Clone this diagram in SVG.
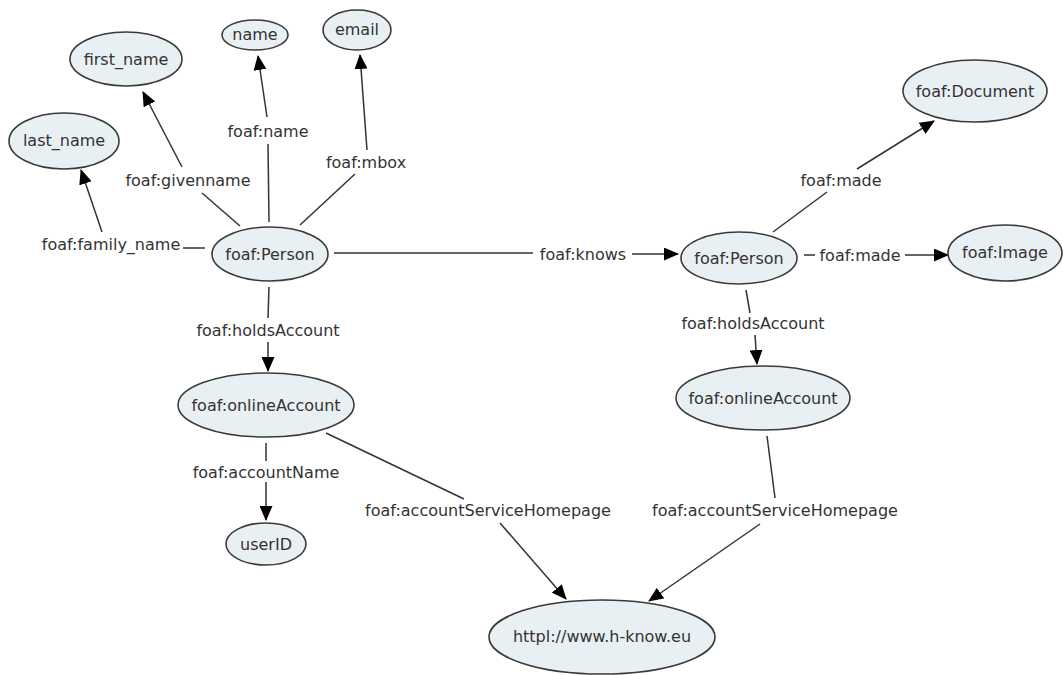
<svg xmlns="http://www.w3.org/2000/svg" width="1063" height="675" viewBox="0 0 1063 675">
  <style>
    .node ellipse { fill: #e9f0f3; stroke: #3a3a3a; stroke-width: 1.6; }
    .node text { font-family: "DejaVu Sans", Verdana, sans-serif; font-size: 16px; fill: #333; text-anchor: middle; dominant-baseline: central; }
    .edge line { stroke: #333; stroke-width: 1.5; fill: none; }
    .edge line.arr { marker-end: url(#head); }
    .edge text { font-family: "DejaVu Sans", Verdana, sans-serif; font-size: 16px; fill: #333; text-anchor: middle; dominant-baseline: central; }
  </style>
  <defs>
    <marker id="head" markerUnits="userSpaceOnUse" markerWidth="15" markerHeight="13" refX="14" refY="6.5" orient="auto">
      <path d="M0,0 L15,6.5 L0,13 z" fill="#000"/>
    </marker>
  </defs>
  <rect width="1063" height="675" fill="#fff"/>

  <g id="connectors">
    <g class="edge" id="e-family">
      <line x1="205" y1="248" x2="183" y2="248"/>
      <text x="111" y="244">foaf:family_name</text>
      <line class="arr" x1="102" y1="232" x2="81" y2="170"/>
    </g>
    <g class="edge" id="e-given">
      <line x1="240" y1="226" x2="202" y2="193"/>
      <text x="188" y="180">foaf:givenname</text>
      <line class="arr" x1="182" y1="167" x2="143" y2="92"/>
    </g>
    <g class="edge" id="e-name">
      <line x1="269" y1="222" x2="268" y2="144"/>
      <text x="268" y="131">foaf:name</text>
      <line class="arr" x1="267" y1="117" x2="258" y2="56"/>
    </g>
    <g class="edge" id="e-mbox">
      <line x1="300" y1="225" x2="355" y2="174"/>
      <text x="366" y="162">foaf:mbox</text>
      <line class="arr" x1="367" y1="150" x2="360" y2="55"/>
    </g>
    <g class="edge" id="e-knows">
      <line x1="334" y1="253" x2="533" y2="253"/>
      <text x="583" y="254">foaf:knows</text>
      <line class="arr" x1="632" y1="254" x2="678" y2="254"/>
    </g>
    <g class="edge" id="e-holds-1">
      <line x1="269" y1="287" x2="268" y2="318"/>
      <text x="268" y="330">foaf:holdsAccount</text>
      <line class="arr" x1="268" y1="342" x2="268" y2="371"/>
    </g>
    <g class="edge" id="e-accname">
      <line x1="266" y1="443" x2="266" y2="461"/>
      <text x="266" y="472">foaf:accountName</text>
      <line class="arr" x1="266" y1="482" x2="266" y2="520"/>
    </g>
    <g class="edge" id="e-home-1">
      <line x1="326" y1="433" x2="464" y2="499"/>
      <text x="488" y="510">foaf:accountServiceHomepage</text>
      <line class="arr" x1="500" y1="523" x2="566" y2="599"/>
    </g>
    <g class="edge" id="e-made-doc">
      <line x1="773" y1="232" x2="827" y2="192"/>
      <text x="841" y="180">foaf:made</text>
      <line class="arr" x1="857" y1="169" x2="934" y2="121"/>
    </g>
    <g class="edge" id="e-made-img">
      <line x1="804" y1="255" x2="815" y2="255"/>
      <text x="860" y="255">foaf:made</text>
      <line class="arr" x1="905" y1="255" x2="948" y2="255"/>
    </g>
    <g class="edge" id="e-holds-2">
      <line x1="746" y1="290" x2="750" y2="313"/>
      <text x="753" y="323">foaf:holdsAccount</text>
      <line class="arr" x1="755" y1="335" x2="757" y2="364"/>
    </g>
    <g class="edge" id="e-home-2">
      <line x1="767" y1="436" x2="775" y2="498"/>
      <text x="775" y="510">foaf:accountServiceHomepage</text>
      <line class="arr" x1="760" y1="524" x2="649" y2="601"/>
    </g>
  </g>

  <g class="node" id="n-first-name"><ellipse cx="126" cy="59" rx="56" ry="27"/><text x="126" y="59">first_name</text></g>
  <g class="node" id="n-name"><ellipse cx="255" cy="35" rx="33" ry="15"/><text x="255" y="34">name</text></g>
  <g class="node" id="n-email"><ellipse cx="357" cy="30" rx="34" ry="20"/><text x="357" y="29">email</text></g>
  <g class="node" id="n-last-name"><ellipse cx="64" cy="141" rx="55" ry="28"/><text x="64" y="140">last_name</text></g>
  <g class="node" id="n-person-1"><ellipse cx="270" cy="254" rx="58" ry="27"/><text x="270" y="254">foaf:Person</text></g>
  <g class="node" id="n-account-1"><ellipse cx="266" cy="405" rx="88" ry="32"/><text x="266" y="405">foaf:onlineAccount</text></g>
  <g class="node" id="n-userid"><ellipse cx="266" cy="544" rx="40" ry="21"/><text x="266" y="544">userID</text></g>
  <g class="node" id="n-homepage"><ellipse cx="602" cy="637" rx="113" ry="37"/><text x="602" y="636">httpl://www.h-know.eu</text></g>
  <g class="node" id="n-person-2"><ellipse cx="739" cy="258" rx="58" ry="26"/><text x="739" y="258">foaf:Person</text></g>
  <g class="node" id="n-account-2"><ellipse cx="763" cy="398" rx="87" ry="32"/><text x="763" y="398">foaf:onlineAccount</text></g>
  <g class="node" id="n-document"><ellipse cx="975" cy="91" rx="72" ry="31"/><text x="975" y="91">foaf:Document</text></g>
  <g class="node" id="n-image"><ellipse cx="1005" cy="253" rx="57" ry="28"/><text x="1005" y="252">foaf:Image</text></g>
</svg>
